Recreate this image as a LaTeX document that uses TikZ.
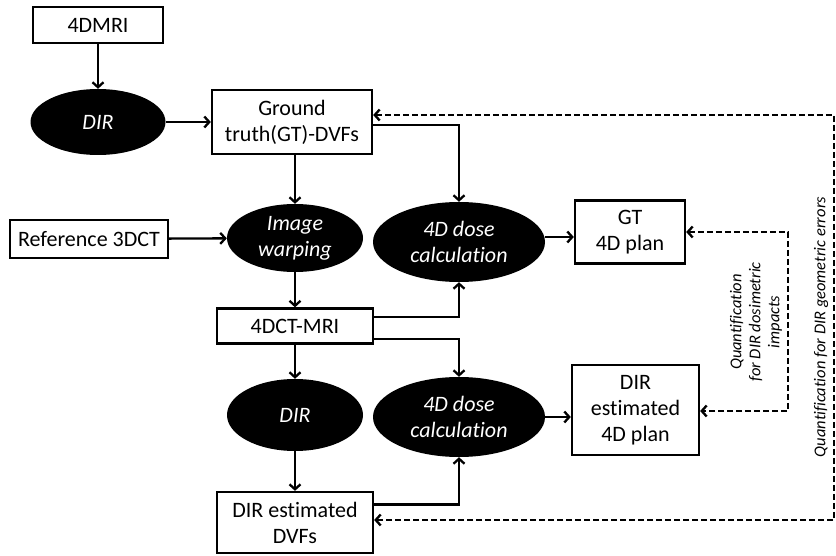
\documentclass[tikz,border=0pt]{standalone}
\usepackage{fontspec}
\setmainfont{Carlito}[Ligatures=NoCommon]
\usetikzlibrary{arrows.meta,shapes.geometric}
\begin{document}
\begin{tikzpicture}[x=1pt,y=-1pt,
  box/.style={draw,line width=2.3pt,minimum width=#1,inner sep=0pt,align=center,font=\fontsize{22}{26}\selectfont},
  oval/.style={ellipse,fill=black,text=white,minimum width=#1,inner sep=0pt,align=center,font=\fontsize{22}{26}\selectfont\itshape},
  arr/.style={line width=2.3pt,-{Straight Barb[length=5pt,width=11pt,line width=2.3pt]}},
  darr/.style={line width=2.3pt,dash pattern=on 6pt off 3pt,{Straight Barb[length=5pt,width=11pt,line width=2.3pt]}-{Straight Barb[length=5pt,width=11pt,line width=2.3pt]}},
  qlab/.style={rotate=90,align=center,font=\fontsize{16.5}{19}\selectfont\itshape}
]
\useasboundingbox (0,0) rectangle (836,556);
\node[box=130pt,minimum height=36pt] (mri) at (98,25) {4DMRI};
\node[oval=135pt,minimum height=66pt] (dir1) at (98,122) {DIR};
\node[box=160pt,minimum height=64pt] (gt) at (292,122) {Ground\\truth(GT)-DVFs};
\node[box=158pt,minimum height=38pt] (ref) at (89,239) {Reference 3DCT};
\node[oval=136pt,minimum height=68pt] (warp) at (295,238) {Image\\warping};
\node[oval=172pt,minimum height=80pt] (dose1) at (459,242) {4D dose\\calculation};
\node[box=110pt,minimum height=63pt] (gtplan) at (630,232) {GT\\4D plan};
\node[box=156pt,minimum height=35pt] (ct) at (295,326) {4DCT-MRI};
\node[oval=136pt,minimum height=72pt] (dir2) at (295,415) {DIR};
\node[oval=172pt,minimum height=80pt] (dose2) at (459,417) {4D dose\\calculation};
\node[box=127pt,minimum height=90pt] (estplan) at (635.5,410) {DIR\\estimated\\4D plan};
\node[box=156pt,minimum height=61pt] (est) at (295,522.5) {DIR estimated\\DVFs};

\draw[arr] (mri) -- (dir1);
\draw[arr] (dir1) -- (gt);
\draw[arr] (gt.south -| warp.north) -- (warp);
\draw[arr] ([yshift=-3pt]gt.east) -| (dose1.north);
\draw[arr] (ref) -- (warp);
\draw[arr] (warp) -- (ct);
\draw[arr] (dose1.east |- gtplan.west) ++(0,5) coordinate (d1e) -- (d1e -| gtplan.west);
\draw[arr] ([yshift=9pt]ct.east) -| (dose1.south);
\draw[arr] ([yshift=-13pt]ct.east) -| (dose2.north);
\draw[arr] (ct) -- (dir2);
\draw[arr] (dir2) -- (est);
\draw[arr] ([yshift=18pt]est.east) -| (dose2.south);
\draw[arr] (dose2.east) -- (dose2.east -| estplan.west);

\coordinate (q1) at (788,232);
\coordinate (q2) at (788,411);
\draw[darr] (gtplan.east) -- (q1) -- (q2) -- (q2 -| estplan.east);
\coordinate (o1) at (834,115);
\coordinate (o2) at (834,520);
\draw[darr] (o1 -| gt.east) -- (o1) -- (o2) -- (o2 -| est.east);

\node[qlab] (lq1) at (756,322) {Quantification\\for DIR dosimetric\\impacts};
\node[qlab] (lq2) at (821,327) {Quantification for DIR geometric errors};
\end{tikzpicture}
\end{document}
